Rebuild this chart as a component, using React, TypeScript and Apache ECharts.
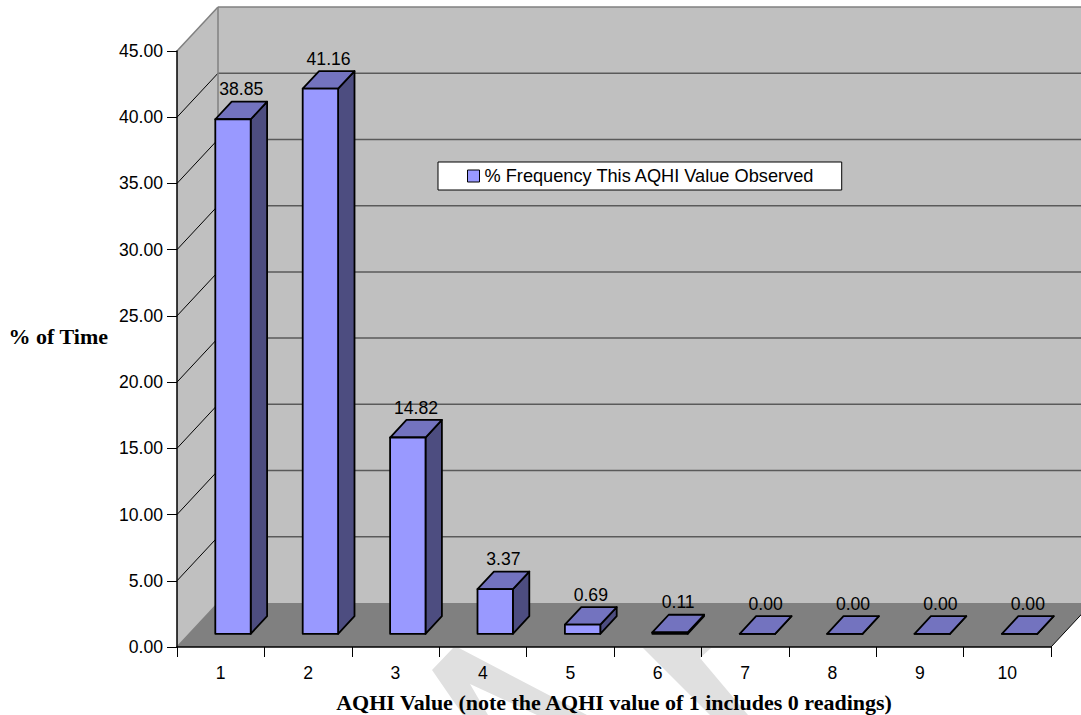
import React, { useEffect, useRef } from "react";
import * as echarts from "echarts";

const categories = ["1", "2", "3", "4", "5", "6", "7", "8", "9", "10"];
const frequencies = [38.85, 41.16, 14.82, 3.37, 0.69, 0.11, 0.0, 0.0, 0.0, 0.0];
const yTicks = [0, 5, 10, 15, 20, 25, 30, 35, 40, 45];
const seriesName = "% Frequency This AQHI Value Observed";
const xTitle = "AQHI Value (note the AQHI value of 1 includes 0 readings)";
const yTitle = "% of Time";

// Projection of the chart's depth axis on the page, in pixels.
const DEPTH_X = 41;
const DEPTH_Y = 44;
const BAR_NEAR = 0.3;
const BAR_FAR = 0.7;
const BAR_WIDTH = 0.405;

const SANS = '"Liberation Sans", Arial, sans-serif';
const SERIF = '"Liberation Serif", "Times New Roman", serif';
const WALL = "#c0c0c0";
const FLOOR = "#808080";
const EDGE = "#808080";
const GRID_LINE = "#5a5a5a";
const BAR_FRONT = "#9999ff";
const BAR_TOP = "#7373bf";
const BAR_SIDE = "#4d4d80";

function renderRoom(_: any, api: any) {
  const { x, y, width, height } = (_ as any).coordSys;
  const bottom = y + height;
  const children: any[] = [
    // left wall, back wall, floor
    {
      type: "polygon",
      shape: { points: [[x, bottom], [x, y], [x + DEPTH_X, y - DEPTH_Y], [x + DEPTH_X, bottom - DEPTH_Y]] },
      style: { fill: WALL },
    },
    {
      type: "polygon",
      shape: {
        points: [
          [x + DEPTH_X, y - DEPTH_Y],
          [x + width + DEPTH_X, y - DEPTH_Y],
          [x + width + DEPTH_X, bottom - DEPTH_Y],
          [x + DEPTH_X, bottom - DEPTH_Y],
        ],
      },
      style: { fill: WALL },
    },
    {
      type: "polygon",
      shape: {
        points: [
          [x, bottom],
          [x + width, bottom],
          [x + width + DEPTH_X, bottom - DEPTH_Y],
          [x + DEPTH_X, bottom - DEPTH_Y],
        ],
      },
      style: { fill: FLOOR },
    },
  ];
  yTicks.forEach((t, i) => {
    const py = api.coord([0, t])[1];
    const isEdge = i === 0 || i === yTicks.length - 1;
    children.push({
      type: "line",
      shape: { x1: x, y1: py, x2: x + DEPTH_X, y2: py - DEPTH_Y },
      style: { stroke: isEdge ? EDGE : "#000", lineWidth: isEdge ? 1.5 : 1 },
    });
    if (i > 0) {
      children.push({
        type: "line",
        shape: { x1: x + DEPTH_X, y1: py - DEPTH_Y, x2: x + width + DEPTH_X, y2: py - DEPTH_Y },
        style: { stroke: isEdge ? EDGE : GRID_LINE, lineWidth: 1.5 },
      });
    }
  });
  children.push({
    type: "line",
    shape: { x1: x + DEPTH_X, y1: y - DEPTH_Y, x2: x + DEPTH_X, y2: bottom - DEPTH_Y },
    style: { stroke: EDGE, lineWidth: 1.5 },
  });
  children.push({
    type: "line",
    shape: { x1: x + width, y1: bottom, x2: x + width + DEPTH_X, y2: bottom - DEPTH_Y },
    style: { stroke: "#000", lineWidth: 1 },
  });
  return { type: "group", children };
}

function renderBar(_: any, api: any) {
  const value = api.value(1);
  const [cx, topY] = api.coord([api.value(0), value]);
  const baseY = api.coord([0, 0])[1];
  const band = api.size([1, 0])[0];
  const half = (band * BAR_WIDTH) / 2;
  const nearX = DEPTH_X * BAR_NEAR;
  const nearY = DEPTH_Y * BAR_NEAR;
  const dx = DEPTH_X * (BAR_FAR - BAR_NEAR);
  const dy = DEPTH_Y * (BAR_FAR - BAR_NEAR);
  const l = cx + nearX - half;
  const r = cx + nearX + half;
  const t = topY - nearY;
  const b = baseY - nearY;
  const outline = { stroke: "#000", lineWidth: 1.8, lineJoin: "round" };
  return {
    type: "group",
    children: [
      { type: "polygon", shape: { points: [[r, t], [r + dx, t - dy], [r + dx, b - dy], [r, b]] }, style: { fill: BAR_SIDE, ...outline } },
      { type: "polygon", shape: { points: [[l, t], [r, t], [r + dx, t - dy], [l + dx, t - dy]] }, style: { fill: BAR_TOP, ...outline } },
      { type: "polygon", shape: { points: [[l, t], [r, t], [r, b], [l, b]] }, style: { fill: BAR_FRONT, ...outline } },
      {
        type: "text",
        style: {
          x: cx + nearX + dx / 2,
          y: t - 30,
          text: value.toFixed(2),
          align: "center",
          verticalAlign: "middle",
          fill: "#000",
          font: `17.6px ${SANS}`,
        },
      },
    ],
  };
}

export default function App() {
  const ref = useRef<HTMLDivElement>(null);
  useEffect(() => {
    const chart = echarts.init(ref.current!, undefined, { renderer: "svg" });
    chart.setOption({
      animation: false,
      backgroundColor: "#fff",
      grid: { left: 177, top: 51, width: 874, height: 596, outerBoundsMode: "none" },
      legend: {
        left: 438,
        top: 162,
        padding: [5, 27, 5, 29],
        icon: "rect",
        itemWidth: 12,
        itemHeight: 12,
        backgroundColor: "#fff",
        borderColor: "#000",
        borderWidth: 1,
        data: [seriesName],
        selectedMode: false,
        textStyle: { color: "#000", fontFamily: SANS, fontSize: 18.2 },
        itemStyle: { color: BAR_FRONT, borderColor: "#000", borderWidth: 1 },
      },
      xAxis: {
        type: "category",
        data: categories,
        z: 5,
        axisLine: { lineStyle: { color: "#000", width: 1.5 } },
        axisTick: { show: true, length: 10, lineStyle: { color: "#000", width: 1 } },
        axisLabel: { interval: 0, margin: 17, color: "#000", fontFamily: SANS, fontSize: 17.6 },
        name: xTitle,
        nameLocation: "middle",
        nameGap: 44,
        nameTextStyle: { color: "#000", fontFamily: SERIF, fontWeight: "bold", fontSize: 22 },
      },
      yAxis: {
        type: "value",
        min: 0,
        max: 45,
        interval: 5,
        z: 5,
        splitLine: { show: false },
        axisLine: { show: true, lineStyle: { color: "#000", width: 1.5 } },
        axisTick: { show: true, length: 10, lineStyle: { color: "#000", width: 1 } },
        axisLabel: { margin: 14, color: "#000", fontFamily: SANS, fontSize: 17.6, formatter: (v: number) => v.toFixed(2) },
        name: yTitle,
        nameLocation: "middle",
        nameRotate: 0,
        nameGap: 69,
        nameTextStyle: {
          color: "#000",
          fontFamily: SERIF,
          fontWeight: "bold",
          fontSize: 22,
          verticalAlign: "bottom",
          lineHeight: 26,
        },
      },
      // Faint shapes printed behind the chart, visible below the axis.
      graphic: [
        {
          type: "polygon",
          z: -1,
          silent: true,
          shape: { points: [[453, 648], [459, 648], [587, 715], [537, 715], [470, 684], [488, 715], [463, 715], [432, 670]] },
          style: { fill: "#e0e0e0" },
        },
        {
          type: "polygon",
          z: -1,
          silent: true,
          shape: { points: [[643, 648], [711, 648], [700, 658], [748, 715], [710, 715]] },
          style: { fill: "#e0e0e0" },
        },
      ],
      series: [
        {
          name: "room",
          type: "custom",
          z: 1,
          silent: true,
          clip: false,
          data: [[0, 0]],
          renderItem: renderRoom,
        },
        {
          name: seriesName,
          type: "custom",
          z: 2,
          silent: true,
          clip: false,
          itemStyle: { color: BAR_FRONT },
          data: frequencies.map((v, i) => [i, v]),
          renderItem: renderBar,
        },
      ],
    });
    return () => chart.dispose();
  }, []);
  return <div ref={ref} style={{ position: "absolute", left: 0, top: 0, width: 1081, height: 715 }} />;
}
